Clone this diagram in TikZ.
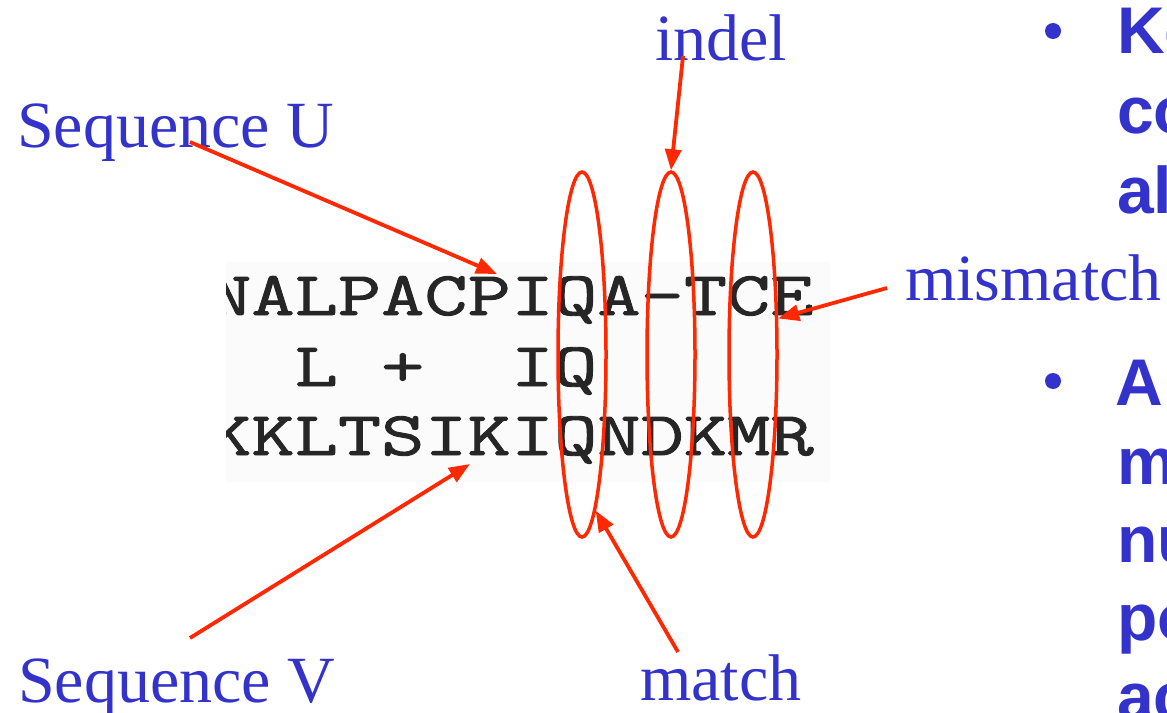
\documentclass[tikz,border=0pt]{standalone}
\usepackage{fontspec}
\setmainfont{Liberation Serif}
\newfontfamily\bulletfont{Liberation Sans}
\newfontfamily\alnfont[FakeStretch=1.35,FakeBold=1.5]{Latin Modern Mono}
\usetikzlibrary{arrows.meta,shapes.geometric}
\definecolor{lblblue}{RGB}{51,51,204}
\definecolor{arrred}{RGB}{255,40,0}
\tikzset{
  lbl/.style={anchor=base west,inner sep=0pt,text=lblblue,font=\fontsize{66}{66}\selectfont},
  bul/.style={anchor=base west,inner sep=0pt,text=lblblue,font=\bulletfont\bfseries\fontsize{66}{66}\selectfont},
  aln/.style={anchor=base west,inner sep=0pt,text=black!85,font=\alnfont\fontsize{62.2}{62.2}\selectfont},
  ring/.style={draw=arrred,line width=3.5pt,ellipse,minimum width=48pt,minimum height=365pt,inner sep=0pt},
  arr/.style={draw=arrred,line width=3.8pt,-{Triangle[length=21pt,width=16pt]}},
  dot/.style={circle,fill=lblblue,minimum size=16pt,inner sep=0pt}
}
\begin{document}
\begin{tikzpicture}[x=1pt,y=-1pt]
\useasboundingbox (0,0) rectangle (1167,712);
\clip (0,0) rectangle (1167,712);
\fill[white] (0,0) rectangle (1167,712);
% alignment block
\begin{scope}
\clip (226,262) rectangle (830,482);
\fill[black!1.5] (226,262) rectangle (830,482);
\node[aln] (rowU) at (208,315) {NALPACPIQA-TCE};
\node[aln] (rowM) at (208,386) {\hphantom{NA}L\hphantom{P}+\hphantom{CP}IQ};
\node[aln] (rowV) at (208,455) {KKLTSIKIQNDKMR};
\end{scope}
% ellipses
\node[ring] (e1) at (582,354.5) {};
\node[ring] (e2) at (671,354.5) {};
\node[ring] (e3) at (753,354.5) {};
% labels
\node[lbl] (seqU) at (17,147) {Sequence U};
\node[lbl] (indel) at (655,60) {indel};
\node[lbl] (mism) at (905,300) {mismatch};
\node[lbl] (seqV) at (18,702) {Sequence V};
\node[lbl] (match) at (640,700) {match};
% connector anchors
\coordinate (uS) at (190,142);
\coordinate (uT) at (497,274);
\coordinate (iS) at (683,56);
\coordinate (mS) at (887,288);
\coordinate (vS) at (190,638);
\coordinate (vT) at (470,464);
\coordinate (maS) at (678,652);
% connectors
\draw[arr] (uS) -- (uT);
\draw[arr] (iS) -- (e2.north);
\draw[arr] (mS) -- (e3.55);
\draw[arr] (vS) -- (vT);
\draw[arr] (maS) -- (e1.-85);
% right column bullets
\node[dot] (d1) at (1053,31) {};
\node[dot] (d2) at (1053,381) {};
\node[bul] (b1) at (1117,53) {Ke};
\node[bul] (b2) at (1117,133) {co};
\node[bul] (b3) at (1117,213) {al};
\node[bul] (b4) at (1115,405) {A};
\node[bul] (b5) at (1117,484) {m};
\node[bul] (b6) at (1117,562) {nu};
\node[bul] (b7) at (1117,640) {po};
\node[bul] (b8) at (1117,719) {ac};
\end{tikzpicture}
\end{document}
